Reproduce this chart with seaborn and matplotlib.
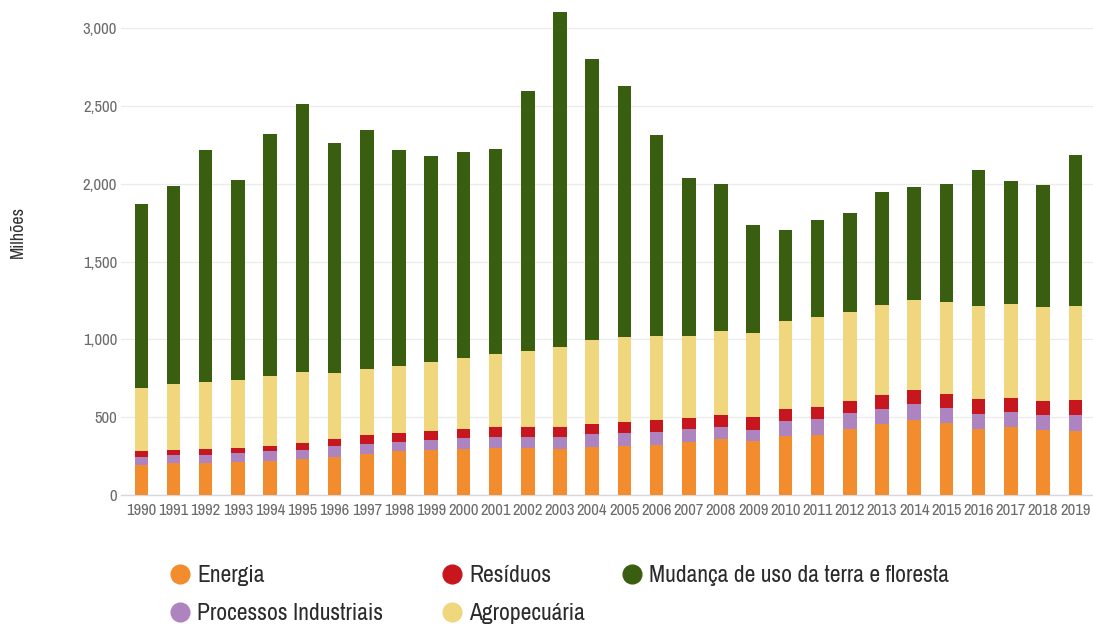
import matplotlib
matplotlib.use("Agg")
import matplotlib.pyplot as plt
from matplotlib import font_manager
from matplotlib.lines import Line2D
from matplotlib.ticker import FuncFormatter
import seaborn as sns
import pandas as pd
import numpy as np

years = [str(y) for y in range(1990, 2020)]
energia = [195, 205, 205, 210, 218, 230, 245, 263, 283, 289, 296, 305, 305, 296, 308,
           315, 321, 343, 360, 349, 379, 386, 426, 456, 482, 461, 426, 435, 418, 411]
processos = [50, 50, 52, 58, 65, 58, 70, 65, 58, 64, 70, 68, 68, 77, 84,
             83, 84, 81, 79, 71, 95, 104, 99, 99, 101, 100, 93, 98, 96, 103]
residuos = [35, 32, 38, 33, 32, 45, 45, 57, 57, 58, 58, 64, 64, 64, 64,
            71, 77, 69, 77, 79, 77, 78, 77, 86, 90, 90, 96, 92, 90, 96]
agropecuaria = [408, 424, 430, 437, 450, 456, 424, 424, 431, 444, 456, 469, 488, 514, 540,
                546, 540, 531, 538, 544, 565, 576, 572, 580, 582, 589, 600, 605, 606, 605]
mudanca = [1182, 1277, 1494, 1286, 1555, 1720, 1476, 1535, 1386, 1320, 1325, 1314, 1670, 2149, 1804,
           1615, 1288, 1011, 946, 692, 589, 621, 636, 724, 725, 760, 875, 785, 780, 970]

series_names = ["Energia", "Processos Industriais", "Resíduos", "Agropecuária",
                "Mudança de uso da terra e floresta"]
series_values = [energia, processos, residuos, agropecuaria, mudanca]
colors = ["#F28C2C", "#AE84C0", "#C8161E", "#F0D67C", "#3A5E10"]

# look for a condensed face
cond_family = None
cond_stretch = "normal"
for f in font_manager.fontManager.ttflist:
    if "Narrow" in f.name or "Condensed" in f.name:
        cond_family = f.name
        break
if cond_family is None:
    for f in font_manager.fontManager.ttflist:
        if f.stretch in ("condensed", "semi-condensed", 500, 300, 400) and f.stretch != "normal" and f.name == "DejaVu Sans":
            cond_family = "DejaVu Sans"
            cond_stretch = "condensed"
            break
have_cond = cond_family is not None
if not have_cond:
    cond_family = "DejaVu Sans"

sns.set_theme(style="white")
plt.rcParams["font.family"] = [cond_family, "DejaVu Sans"]
plt.rcParams["font.stretch"] = cond_stretch

df = pd.DataFrame({"Ano": years})
cum = np.zeros(len(years))
for name, vals in zip(series_names, series_values):
    cum = cum + np.array(vals)
    df[name] = cum

W, H = 1093, 625
fig = plt.figure(figsize=(W / 100, H / 100), dpi=100)
ax = fig.add_axes([0.111, 0.208, 0.889, 0.792])

for name, col in reversed(list(zip(series_names, colors))):
    sns.barplot(data=df, x="Ano", y=name, color=col, width=0.42, ax=ax,
                saturation=1, linewidth=0, zorder=3)

xt_size = 12 if have_cond else 9.3
yt_size = 12 if have_cond else 10.5
lg_size = 17 if have_cond else 13.5

ax.set_xlim(-0.62, 29.55)
ax.set_ylim(0, 3180)
ax.set_yticks([0, 500, 1000, 1500, 2000, 2500, 3000])
ax.yaxis.set_major_formatter(FuncFormatter(lambda v, p: f"{int(v):,}"))
ax.grid(axis="y", color="#EBEBEB", linewidth=0.9, zorder=0)
ax.set_axisbelow(True)
for s in ["top", "right", "left"]:
    ax.spines[s].set_visible(False)
ax.spines["bottom"].set_color("#D5D8DC")
ax.spines["bottom"].set_linewidth(1.0)
ax.tick_params(axis="both", length=0, colors="#6B6B6B")
ax.tick_params(axis="y", pad=3, labelsize=yt_size)
ax.tick_params(axis="x", pad=6, labelsize=xt_size)
ax.set_xlabel("")
ax.set_ylabel("")

fig.text(18 / W, 1 - 232 / H, "Milhões", rotation=90, ha="center", va="center",
         fontsize=13, color="#333333", fontweight="bold")

fs_px = lg_size * 100 / 72
hl = 1.0
handles = [Line2D([0], [0], marker="o", linestyle="", markersize=13.5,
                  markerfacecolor=c, markeredgecolor=c) for c in colors]

groups = [([0, 1], 180, 595), ([2, 3], 452, 595), ([4], 632, 576)]
for idx, cx, cy in groups:
    left = cx - hl * fs_px / 2
    leg = fig.legend([handles[i] for i in idx], [series_names[i] for i in idx],
                     ncol=1, loc="center left", bbox_to_anchor=(left / W, 1 - cy / H),
                     frameon=False, fontsize=lg_size, labelcolor="#2B2B2B",
                     handletextpad=0.23, labelspacing=0.72, handlelength=hl,
                     borderpad=0, borderaxespad=0)

fig.savefig("out.png", dpi=100, facecolor="white")
